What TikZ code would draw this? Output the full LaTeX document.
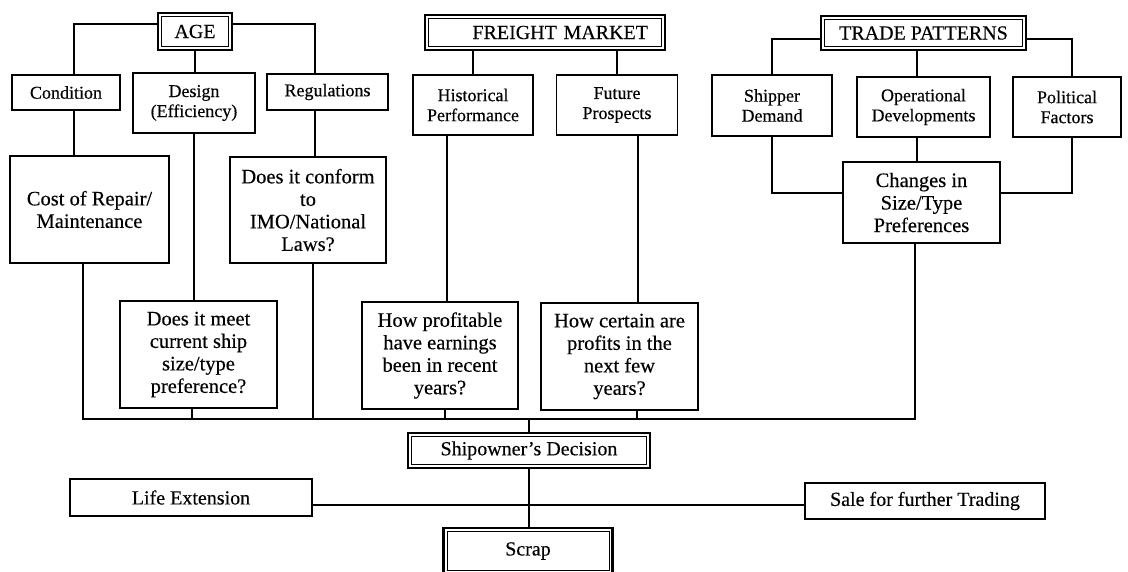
\documentclass[tikz,border=0pt]{standalone}
\usepackage{fontspec}
\setmainfont{Liberation Serif}[FakeBold=0.3]
\begin{document}
\begin{tikzpicture}[x=1pt,y=-1pt,
  box/.style={draw, line width=1.6pt, inner sep=0pt, align=center, anchor=center},
  sm/.style={box, font=\fontsize{18}{20}\selectfont},
  lg/.style={box, font=\fontsize{20.5}{22.5}\selectfont},
  bt/.style={box, font=\fontsize{20}{22}\selectfont},
  ttl/.style={box, line width=2.4pt, font=\fontsize{20}{22}\selectfont,
    path picture={\draw[line width=0.9pt]
      ([shift={(3.5pt,3.5pt)}]path picture bounding box.south west) rectangle
      ([shift={(-3.5pt,-3.5pt)}]path picture bounding box.north east);}},
  conn/.style={line width=1.3pt}]
\clip (0,0) rectangle (1128,572);
\fill[white] (0,0) rectangle (1128,572);

% title boxes
\node[ttl, minimum width=74pt, minimum height=37pt] (age) at (195,31.5) {AGE};
\node[ttl, minimum width=240pt, minimum height=35pt, text width=206pt, align=right] (fm) at (545,32.5) {FREIGHT MARKET};
\node[ttl, minimum width=205pt, minimum height=34pt] (tp) at (923.5,33) {TRADE PATTERNS};

% second row
\node[sm, minimum width=108pt, minimum height=35pt] (cond) at (66,92.5) {Condition};
\node[sm, minimum width=122pt, minimum height=60pt] (design) at (194,103) {Design\\(Efficiency)};
\node[sm, minimum width=121pt, minimum height=36pt] (reg) at (327.5,92) {Regulations};
\node[sm, minimum width=120pt, minimum height=60pt] (hist) at (473,105) {Historical\\Performance};
\node[sm, minimum width=121pt, minimum height=60pt] (fut) at (617,105) {Future\\Prospects};
\node[sm, minimum width=120pt, minimum height=61pt] (ship) at (772,105.5) {Shipper\\Demand};
\node[sm, minimum width=133pt, minimum height=60pt] (op) at (923.5,107) {Operational\\Developments};
\node[sm, minimum width=108pt, minimum height=60pt] (pol) at (1067,107) {Political\\Factors};

% question boxes
\node[lg, minimum width=159pt, minimum height=107pt] (cost) at (89.5,209.5) {Cost of Repair/\\Maintenance};
\node[lg, minimum width=156pt, minimum height=106pt] (conf) at (308,210) {Does it conform\\to\\IMO/National\\Laws?};
\node[lg, minimum width=157pt, minimum height=81pt] (ch) at (921.5,202.5) {Changes in\\Size/Type\\Preferences};
\node[lg, minimum width=157pt, minimum height=107pt] (meet) at (198.5,354.5) {Does it meet\\current ship\\size/type\\preference?};
\node[lg, minimum width=156pt, minimum height=107pt] (prof) at (440,355.5) {How profitable\\have earnings\\been in recent\\years?};
\node[lg, minimum width=157pt, minimum height=107pt] (cert) at (619.5,356.5) {How certain are\\profits in the\\next few\\years?};

% decision
\node[ttl, minimum width=242pt, minimum height=35pt] (dec) at (529,450.5) {Shipowner’s Decision};
\node[bt, minimum width=242pt, minimum height=37pt] (life) at (191,497.5) {Life Extension};
\node[bt, minimum width=240pt, minimum height=36pt] (sale) at (925,501) {Sale for further Trading};
\node[ttl, minimum width=169pt, minimum height=46pt] (scrap) at (528,551) {Scrap};

% AGE connectors
\draw[conn] ([yshift=7.5pt]age.west) -| ([xshift=8pt]cond.north);
\draw[conn] ([yshift=7.5pt]age.east) -| ([xshift=-12.5pt]reg.north);
\draw[conn] (age.south) -- (age.south |- design.north);
\draw[conn] ([xshift=8pt]cond.south) -- ([xshift=8pt]cond.south |- cost.north);
\draw[conn] (design.south) -- (design.south |- meet.north);
\draw[conn] ([xshift=-12.5pt]reg.south) -- ([xshift=-12.5pt]reg.south |- conf.north);

% FREIGHT MARKET connectors
\draw[conn] (hist.north |- fm.south) -- (hist.north);
\draw[conn] (fut.north |- fm.south) -- (fut.north);
\draw[conn] ([xshift=-26pt]hist.south) -- ([xshift=-26pt]hist.south |- prof.north);
\draw[conn] ([xshift=21pt]fut.south) -- ([xshift=21pt]fut.south |- cert.north);

% TRADE PATTERNS connectors
\draw[conn] ([yshift=-6pt]tp.west) -| (ship.north);
\draw[conn] ([yshift=-6pt]tp.east) -| ([xshift=5pt]pol.north);
\draw[conn] ([xshift=-6.5pt]tp.south) -- ([xshift=-6.5pt]op.north);
\draw[conn] ([xshift=-6.5pt]op.south) -- ([xshift=-6.5pt]op.south |- ch.north);
\draw[conn] (ship.south) |- ([yshift=9.5pt]ch.west);
\draw[conn] ([xshift=5pt]pol.south) |- ([yshift=9.5pt]ch.east);

% collector line
\coordinate (busL) at (83,419);
\coordinate (busR) at (915,419);
\draw[conn] (cost.south -| busL) -- (busL) -- (busR) -- (ch.south -| busR);
\draw[conn] ([xshift=-6.5pt]meet.south) -- ([xshift=-6.5pt]meet.south |- busL);
\draw[conn] ([xshift=5pt]conf.south) -- ([xshift=5pt]conf.south |- busL);
\draw[conn] ([xshift=5pt]prof.south) -- ([xshift=5pt]prof.south |- busL);
\draw[conn] ([xshift=17.5pt]cert.south) -- ([xshift=17.5pt]cert.south |- busL);
\draw[conn] (dec.north |- busL) -- (dec.north);

% decision outcomes
\draw[conn] (dec.south) -- (dec.south |- scrap.north);
\draw[conn] ([yshift=-7.5pt]life.east) -- ([yshift=-7.5pt]life.east -| sale.west);
\end{tikzpicture}
\end{document}
